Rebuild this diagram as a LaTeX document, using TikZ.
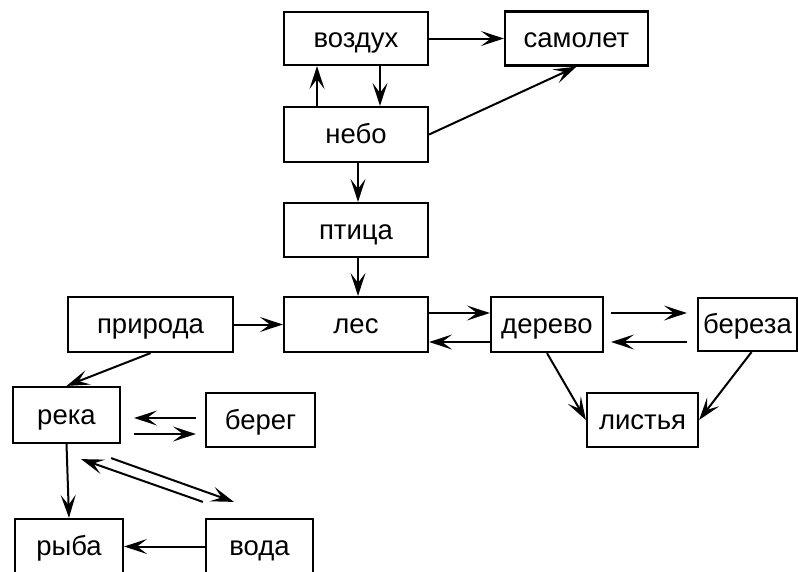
\documentclass[tikz,border=0pt]{standalone}
\usepackage{fontspec}
\setmainfont{Liberation Sans}
\usetikzlibrary{arrows.meta,calc}
\tikzset{
  box/.style={draw, line width=2.2pt, inner sep=0pt, text height=20pt, text depth=2pt,
    font=\fontsize{27.5}{30}\selectfont},
  arr/.style={line width=2pt, -{Stealth[length=23pt,width=15pt,inset=10pt]}}
}
\begin{document}
\begin{tikzpicture}[x=1pt,y=-1pt]
\useasboundingbox (0,0) rectangle (798,571);
\clip (0,0) rectangle (798,571);
\fill[white] (0,0) rectangle (798,571);

% boxes
\node[box, minimum width=144pt, minimum height=53pt] (vozduh)  at (356,38.5)  {воздух};
\node[box, minimum width=143pt, minimum height=54pt] (samolet) at (576.5,38.5) {самолет};
\node[box, minimum width=144pt, minimum height=55pt] (nebo)    at (356,134.5) {небо};
\node[box, minimum width=144pt, minimum height=54pt] (ptica)   at (356,230)   {птица};
\node[box, minimum width=144pt, minimum height=55pt] (les)     at (356,324.5) {лес};
\node[box, minimum width=165pt, minimum height=55pt] (priroda) at (150.5,324.5) {природа};
\node[box, minimum width=112pt, minimum height=55pt] (derevo)  at (547,324.5) {дерево};
\node[box, minimum width=99pt,  minimum height=53pt] (bereza)  at (747.5,324.5) {береза};
\node[box, minimum width=111pt, minimum height=54pt] (listya)  at (642.5,420) {листья};
\node[box, minimum width=107pt, minimum height=56pt] (reka)    at (66.5,415)  {река};
\node[box, minimum width=109pt, minimum height=54pt] (bereg)   at (260.5,420) {берег};
\node[box, minimum width=108pt, minimum height=55pt] (ryba)    at (69,546.5)  {рыба};
\node[box, minimum width=107pt, minimum height=55pt] (voda)    at (259.5,546.5) {вода};

% connectors
\draw[arr] (vozduh) -- (samolet);
\draw[arr] ($(nebo.north)+(-39,0)$) -- ($(vozduh.south)+(-39,0)$);
\draw[arr] ($(vozduh.south)+(24,0)$) -- ($(nebo.north)+(24,0)$);
\draw[arr] (nebo.east) -- (samolet.south);
\draw[arr] ($(nebo.south)+(2,0)$) -- ($(ptica.north)+(2,0)$);
\draw[arr] ($(ptica.south)+(2,0)$) -- ($(les.north)+(2,0)$);
\draw[arr] (priroda) -- (les);
\draw[arr] ($(les.east)+(0,-11.5)$) -- ($(derevo.west)+(0,-11.5)$);
\draw[arr] ($(derevo.west)+(0,17.5)$) -- ($(les.east)+(0,17.5)$);
\draw[arr] ($(derevo.east)+(7,-11.5)$) -- ($(bereza.west)+(-10,-11.5)$);
\draw[arr] ($(bereza.west)+(-10,17.5)$) -- ($(derevo.east)+(7,17.5)$);
\draw[arr] (derevo.south) -- (listya.west);
\draw[arr] ($(bereza.south)+(4,0)$) -- (listya.east);
\draw[arr] (priroda.south) -- (reka.north);
\draw[arr] ($(bereg.west)+(-9,-2)$) -- ($(reka.east)+(13,3)$);
\draw[arr] ($(reka.east)+(13,19)$) -- ($(bereg.west)+(-9,14)$);
\draw[arr] (reka.south) -- (ryba.north);
\draw[arr] (voda.west) -- (ryba.east);
\draw[arr] ($(voda.north west)+(-2,-16)$) -- ($(reka.south east)+(-40,15)$);
\draw[arr] ($(reka.south east)+(-10,14)$) -- ($(voda.north west)+(29,-16)$);
\end{tikzpicture}
\end{document}
